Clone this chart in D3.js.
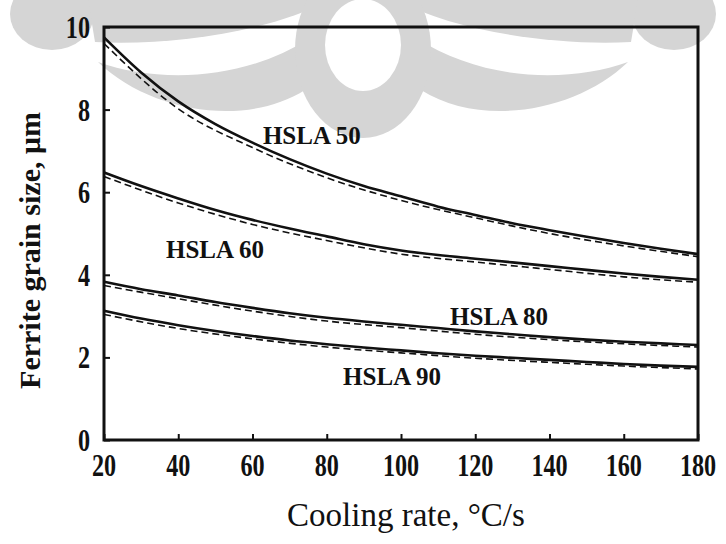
<!DOCTYPE html>
<html>
<head>
<meta charset="utf-8">
<script src="https://cdn.jsdelivr.net/npm/d3@7/dist/d3.min.js"></script>
<style>
  body { margin: 0; background: #fff; }
  svg { display: block; }
  .tick-label { font-family: 'Liberation Serif', 'Times New Roman', serif; font-weight: bold; font-size: 31px; fill: #111; }
  .axis-title { font-family: 'Liberation Serif', 'Times New Roman', serif; fill: #111; }
  .series-label { font-family: 'Liberation Serif', 'Times New Roman', serif; font-weight: bold; font-size: 25px; fill: #111; }
</style>
</head>
<body>
<svg id="chart" width="726" height="544"></svg>
<script>
// Cooling rate, °C/s
const coolingRates = [20, 30, 40, 50, 60, 70, 80, 90, 100, 110, 120, 130, 140, 150, 160, 170, 180];

// Ferrite grain size, µm (fitted curves)
const hsla50 = [9.75, 8.9, 8.2, 7.65, 7.2, 6.8, 6.45, 6.15, 5.9, 5.65, 5.45, 5.25, 5.08, 4.92, 4.77, 4.63, 4.5];
const hsla60 = [6.48, 6.15, 5.85, 5.57, 5.33, 5.12, 4.93, 4.74, 4.59, 4.48, 4.39, 4.3, 4.21, 4.12, 4.03, 3.95, 3.88];
const hsla80 = [3.83, 3.65, 3.5, 3.34, 3.2, 3.07, 2.96, 2.87, 2.79, 2.71, 2.63, 2.56, 2.49, 2.43, 2.38, 2.34, 2.3];
const hsla90 = [3.13, 2.94, 2.78, 2.64, 2.52, 2.41, 2.32, 2.24, 2.17, 2.1, 2.04, 1.99, 1.94, 1.89, 1.84, 1.8, 1.77];

// Measured curves (dashed), sampled every 20 °C/s
const measuredRates = [20, 40, 60, 80, 100, 120, 140, 160, 180];
const hsla50Measured = [9.6, 8.02, 7.08, 6.35, 5.8, 5.38, 5.0, 4.7, 4.44];
const hsla60Measured = [6.38, 5.74, 5.22, 4.83, 4.5, 4.31, 4.13, 3.95, 3.82];
const hsla80Measured = [3.74, 3.42, 3.12, 2.88, 2.72, 2.56, 2.43, 2.33, 2.25];
const hsla90Measured = [3.04, 2.7, 2.45, 2.25, 2.11, 1.98, 1.88, 1.79, 1.72];

const seriesNames = ['HSLA 50', 'HSLA 60', 'HSLA 80', 'HSLA 90'];

const xTicks = [20, 40, 60, 80, 100, 120, 140, 160, 180];
const yTicks = [0, 2, 4, 6, 8, 10];

const config = {
  width: 726,
  height: 544,
  margins: { left: 104, top: 27, right: 28, bottom: 104 },
  ink: '#111',
  emblem: '#d5d5d5',
  lineWidth: 2.6,
  digitSqueeze: 0.78,
  // label anchors in data units [rate, size]
  labelAt: [[76, 7.38], [49.9, 4.62], [126.4, 3.0], [97.6, 1.55]]
};

const svg = d3.select('#chart');
const innerWidth = config.width - config.margins.left - config.margins.right;
const innerHeight = config.height - config.margins.top - config.margins.bottom;

const x = d3.scaleLinear().domain([20, 180]).range([config.margins.left, config.margins.left + innerWidth]);
const y = d3.scaleLinear().domain([0, 10]).range([config.margins.top + innerHeight, config.margins.top]);

// faint emblem in the background
const emblem = svg.append('g').attr('class', 'emblem').style('fill', config.emblem);
const half = (g) => {
  g.append('ellipse').attr('cx', 52).attr('cy', 14).attr('rx', 42).attr('ry', 36);
  g.append('path').attr('d', 'M 330 0 C 270 32 170 46 95 42 L 88 0 Z');
  g.append('path').attr('d', 'M 305 90 C 245 128 150 112 98 62 C 160 84 245 80 310 38 Z');
};
half(emblem.append('g'));
half(emblem.append('g').attr('transform', `translate(${config.width},0) scale(-1,1)`));
emblem.append('ellipse').attr('cx', 363).attr('cy', 50).attr('rx', 68).attr('ry', 88);
emblem.append('ellipse').attr('cx', 363).attr('cy', 45).attr('rx', 38).attr('ry', 46).style('fill', '#fff');

// plot frame
svg.append('rect')
  .attr('x', x(20)).attr('y', y(10))
  .attr('width', innerWidth).attr('height', innerHeight)
  .style('fill', 'none').style('stroke', config.ink).style('stroke-width', 3);

// inward ticks only; labels are drawn separately
const styleTicks = (g) => {
  g.select('.domain').remove();
  g.selectAll('.tick text').remove();
  g.selectAll('line').style('stroke', config.ink).style('stroke-width', 2);
};

svg.append('g').attr('transform', `translate(0,${y(0)})`)
  .call(d3.axisTop(x).tickValues(xTicks).tickSize(6))
  .call(styleTicks);

svg.append('g').attr('transform', `translate(${x(20)},0)`)
  .call(d3.axisRight(y).tickValues(yTicks).tickSize(6))
  .call(styleTicks);

// tick labels (tall, narrow digits)
svg.append('g').selectAll('text').data(xTicks).join('text')
  .attr('class', 'tick-label')
  .attr('transform', d => `translate(${x(d)},${y(0) + 36}) scale(${config.digitSqueeze},1)`)
  .attr('text-anchor', 'middle')
  .text(d => d);

svg.append('g').selectAll('text').data(yTicks).join('text')
  .attr('class', 'tick-label')
  .attr('transform', d => `translate(${x(20) - 14},${y(d) + 11}) scale(${config.digitSqueeze},1)`)
  .attr('text-anchor', 'end')
  .text(d => d);

// axis titles
svg.append('text').attr('class', 'axis-title')
  .attr('x', x(100) + 5).attr('y', y(0) + 86)
  .attr('text-anchor', 'middle')
  .style('font-size', '33px')
  .text('Cooling rate, °C/s');

svg.append('text').attr('class', 'axis-title')
  .attr('transform', `translate(40,${y(5) + 17}) rotate(-90)`)
  .attr('text-anchor', 'middle')
  .style('font-size', '30px').style('font-weight', 'bold')
  .text('Ferrite grain size, μm');

// curves
const fitted = [hsla50, hsla60, hsla80, hsla90];
const measured = [hsla50Measured, hsla60Measured, hsla80Measured, hsla90Measured];

const line = (rates) => d3.line()
  .x((d, i) => x(rates[i]))
  .y(d => y(d))
  .curve(d3.curveMonotoneX);

const curves = svg.append('g').attr('class', 'curves').style('fill', 'none');

curves.selectAll('path.measured').data(measured).join('path')
  .attr('class', 'measured')
  .attr('d', line(measuredRates))
  .style('stroke', config.ink)
  .style('stroke-width', 1.6)
  .style('stroke-dasharray', '7 4');

curves.selectAll('path.fitted').data(fitted).join('path')
  .attr('class', 'fitted')
  .attr('d', line(coolingRates))
  .style('stroke', config.ink)
  .style('stroke-width', config.lineWidth);

// series labels
svg.append('g').selectAll('text').data(seriesNames).join('text')
  .attr('class', 'series-label')
  .attr('x', (d, i) => x(config.labelAt[i][0]))
  .attr('y', (d, i) => y(config.labelAt[i][1]) + 9)
  .attr('text-anchor', 'middle')
  .text(d => d);
</script>
</body>
</html>
